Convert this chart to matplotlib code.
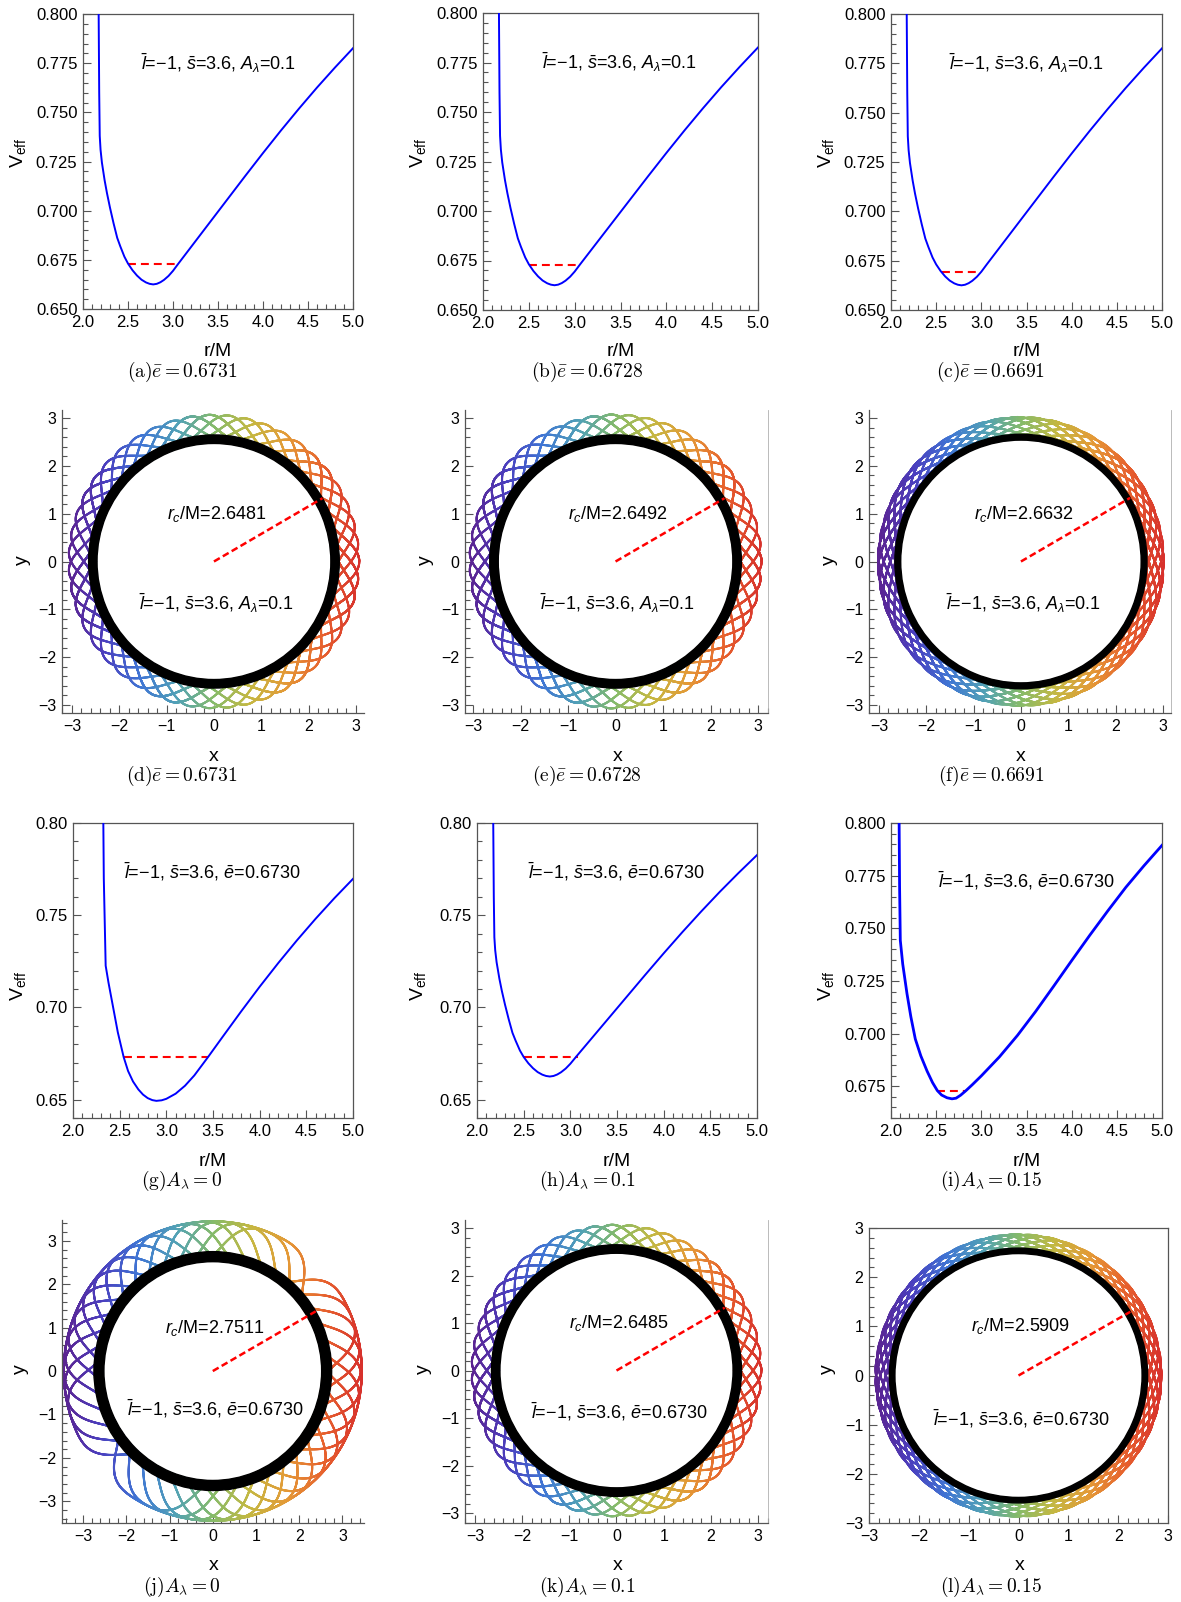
import numpy as np
import matplotlib
matplotlib.use('Agg')
import matplotlib.pyplot as plt
from matplotlib.collections import LineCollection
from matplotlib.colors import LinearSegmentedColormap
from matplotlib.patches import Wedge
from matplotlib.ticker import MultipleLocator, FormatStrFormatter

plt.rcParams.update({
    'font.family': 'Liberation Sans',
    'mathtext.fontset': 'custom',
    'mathtext.rm': 'Liberation Sans',
    'mathtext.it': 'Liberation Sans:italic',
    'mathtext.bf': 'Liberation Sans:bold',
    'mathtext.sf': 'Liberation Sans',
    'axes.unicode_minus': True,
})

W, H = 1181, 1602
FRAME = '#555555'

# ---- effective potentials ----
# A_lambda = 0.1  (panels a, b, c, h)
r_A01 = [2.174, 2.180, 2.186, 2.195, 2.21, 2.24, 2.266, 2.30, 2.34, 2.38, 2.414, 2.46,
         2.50, 2.55, 2.60, 2.65, 2.70, 2.74, 2.78, 2.82, 2.86, 2.90, 2.95, 3.00, 3.06,
         3.12, 3.20, 3.40, 3.60, 3.80, 4.00, 4.20, 4.40, 4.60, 4.80, 5.00]
V_A01 = [0.800, 0.760, 0.738, 0.7310, 0.7245, 0.7155, 0.7090, 0.7015, 0.6935, 0.6862,
         0.6819, 0.6766, 0.6731, 0.6697, 0.6670, 0.6649, 0.6635, 0.6628, 0.6625, 0.6628,
         0.6636, 0.6648, 0.6668, 0.6694, 0.6731, 0.6767, 0.6815, 0.6935, 0.7055, 0.7175,
         0.7293, 0.7408, 0.7519, 0.7626, 0.7728, 0.7826]
# A_lambda = 0  (panel g)
r_A00 = [2.325, 2.33, 2.35, 2.38, 2.43, 2.48, 2.543, 2.59, 2.643, 2.70, 2.75, 2.80, 2.85,
         2.893, 2.95, 3.00, 3.10, 3.20, 3.30, 3.446, 3.60, 3.80, 4.00, 4.20, 4.40, 4.60,
         4.80, 5.00]
V_A00 = [0.800, 0.770, 0.7226, 0.7135, 0.700, 0.6865, 0.6730, 0.6655, 0.6598, 0.6555,
         0.6527, 0.6508, 0.6497, 0.6493, 0.6496, 0.6504, 0.6532, 0.6575, 0.6631, 0.6730,
         0.6838, 0.6977, 0.7112, 0.7241, 0.7364, 0.7481, 0.7592, 0.7697]
# A_lambda = 0.15  (panel i)
r_A015 = [2.09, 2.095, 2.103, 2.13, 2.177, 2.22, 2.269, 2.33, 2.40, 2.46, 2.513, 2.56,
          2.62, 2.675, 2.72, 2.77, 2.83, 2.90, 3.00, 3.20, 3.40, 3.60, 3.80, 4.00, 4.20,
          4.40, 4.60, 4.80, 5.00]
V_A015 = [0.800, 0.770, 0.7443, 0.733, 0.719, 0.708, 0.6975, 0.6895, 0.6822, 0.6768,
          0.6730, 0.6709, 0.6696, 0.6691, 0.6694, 0.6708, 0.6730, 0.6758, 0.6800, 0.6890,
          0.6992, 0.7105, 0.7225, 0.7347, 0.7467, 0.7583, 0.7695, 0.7797, 0.7894]

# energy levels and turning points
e_row1 = [0.6731, 0.6728, 0.6691]
turn_row1 = [(2.50, 3.06), (2.50, 3.06), (2.56, 2.98)]
e_row3 = [0.6730, 0.6730, 0.6730]
turn_row3 = [(2.543, 3.446), (2.50, 3.08), (2.513, 2.83)]
A_row3 = ['0', '0.1', '0.15']

# orbits: circular radius, radial range
rc_row2 = [2.6481, 2.6492, 2.6632]
rrange_row2 = [(2.50, 3.07), (2.50, 3.075), (2.57, 3.02)]
rc_row4 = [2.7511, 2.6485, 2.5909]
rrange_row4 = [(2.55, 3.45), (2.50, 3.07), (2.51, 2.87)]

rainbow = LinearSegmentedColormap.from_list('rainbow_m', [
    '#5b2391', '#4a3fbf', '#3f76d4', '#52a2b6', '#86bb6a',
    '#c5b842', '#e49a36', '#e7612d', '#d7312c'])

fig = plt.figure(figsize=(W / 100, H / 100), dpi=100)


def box(x0, y0, x1, y1):
    return [x0 / W, 1 - y1 / H, (x1 - x0) / W, (y1 - y0) / H]


def ftext(x, y, s, **kw):
    fig.text(x / W, 1 - y / H, s, ha='center', va='center', **kw)


def style(ax, frame=True, right=False):
    ax.tick_params(which='both', direction='in', top=False, right=False,
                   color=FRAME, width=0.8, labelsize=12, pad=4)
    ax.tick_params(which='major', length=6)
    ax.tick_params(which='minor', length=3.5)
    for side, sp in ax.spines.items():
        sp.set_color(FRAME)
        sp.set_linewidth(0.9)
    if not frame:
        ax.spines['top'].set_visible(False)
        ax.spines['right'].set_visible(right)
        if right:
            ax.spines['right'].set_color('#b0b0b0')
            ax.spines['right'].set_linewidth(0.6)


def veff_panel(rect, r, V, e, turn, ylim, ymaj, ymin, yfmt, label, txt_xy, lw=1.4):
    ax = fig.add_axes(box(*rect))
    ax.plot(r, V, color='blue', lw=lw, solid_joinstyle='round', zorder=3)
    ax.plot(turn, [e, e], color='red', lw=1.5, ls=(0, (3.8, 2.4)), zorder=2)
    ax.set_xlim(2.0, 5.0)
    ax.set_ylim(*ylim)
    ax.xaxis.set_major_locator(MultipleLocator(0.5))
    ax.xaxis.set_minor_locator(MultipleLocator(0.1))
    ax.xaxis.set_major_formatter(FormatStrFormatter('%.1f'))
    ax.yaxis.set_major_locator(MultipleLocator(ymaj))
    ax.yaxis.set_minor_locator(MultipleLocator(ymin))
    ax.yaxis.set_major_formatter(FormatStrFormatter(yfmt))
    style(ax)
    ax.text(txt_xy[0], txt_xy[1], label, fontsize=13, ha='left', va='center')
    return ax


def orbit_panel(rect, xlim, ylim, rc, rr, shape, label, frame=False, right=False):
    # shape: radial/azimuthal frequency ratio, revolutions, first apoapsis angle,
    # half-width of an excursion (rad) and its flatness exponent
    omega, nrev, phase, width, power = shape
    ax = fig.add_axes(box(*rect))
    rmin, rmax = rr
    period = 2 * np.pi / omega
    phi = np.linspace(0, 2 * np.pi * nrev, 80000)
    d = np.mod(phi - np.radians(phase) + period / 2, period) - period / 2
    rad = rmin + (rmax - rmin) * np.exp(-np.abs(d / width) ** power)
    x, y = rad * np.cos(phi), rad * np.sin(phi)
    pts = np.column_stack([x, y]).reshape(-1, 1, 2)
    segs = np.concatenate([pts[:-1], pts[1:]], axis=1)
    lc = LineCollection(segs, cmap=rainbow, norm=plt.Normalize(-rmax, rmax),
                        linewidths=1.5, capstyle='round')
    lc.set_array(0.5 * (x[:-1] + x[1:]))
    ax.add_collection(lc)
    ax.add_patch(Wedge((0, 0), rc, 0, 360, width=rc - (rmin - 0.03), color='black', zorder=3))
    ang = np.radians(30)
    ax.plot([0, rc * np.cos(ang)], [0, rc * np.sin(ang)], color='red', lw=1.8,
            ls=(0, (2.7, 1.4)), zorder=4)
    ax.text(0.05, 1.0, r'$r_c$/M=%.4f' % rc, fontsize=13, ha='center', va='center', zorder=5)
    ax.text(0.05, -0.87, label, fontsize=13, ha='center', va='center', zorder=5)
    ax.set_xlim(*xlim)
    ax.set_ylim(*ylim)
    ax.xaxis.set_major_locator(MultipleLocator(1))
    ax.xaxis.set_minor_locator(MultipleLocator(0.2))
    ax.yaxis.set_major_locator(MultipleLocator(1))
    ax.yaxis.set_minor_locator(MultipleLocator(0.2))
    style(ax, frame=frame, right=right)
    ax.tick_params(labelsize=11.5)
    return ax


lbl_A = r'$\bar{l}$=−1, $\bar{s}$=3.6, $A_\lambda$=0.1'
lbl_e = r'$\bar{l}$=−1, $\bar{s}$=3.6, $\bar{e}$=0.6730'
letters1 = ['a', 'b', 'c']
letters2 = ['d', 'e', 'f']
letters3 = ['g', 'h', 'i']
letters4 = ['j', 'k', 'l']
cap_x = [182, 587, 991]

# ---- row 1: potentials, varying energy ----
row1_rects = [(83, 14, 353, 309), (483, 13, 758, 310), (891, 14, 1162, 310)]
for i, rect in enumerate(row1_rects):
    veff_panel(rect, r_A01, V_A01, e_row1[i], turn_row1[i], (0.65, 0.80), 0.025, 0.005,
               '%.3f', lbl_A, (2.64, 0.775))
    cx = 0.5 * (rect[0] + rect[2])
    ftext(cx, 352, 'r/M', fontsize=14)
    ftext(rect[0] - 65, 153, r'V$_{\mathrm{eff}}$', fontsize=14, rotation=90)
    ftext(cap_x[i], 372, r'$\mathrm{(%s)}\bar{e}=%.4f$' % (letters1[i], e_row1[i]),
          fontsize=14, math_fontfamily='cm')

# ---- row 2: orbits, varying energy ----
lattice = (2.35, 26, 0, 0.22, 2)
dense = (2.35, 32, 0, 0.36, 2)
row2_rects = [(62, 410, 364, 713), (465, 410, 768, 713), (869, 410, 1171, 713)]
row2_xlim = [(-3.21, 3.17), (-3.17, 3.21), (-3.21, 3.17)]
row2_shape = [lattice, lattice, dense]
for i, rect in enumerate(row2_rects):
    orbit_panel(rect, row2_xlim[i], (-3.17, 3.17), rc_row2[i], rrange_row2[i],
                row2_shape[i], lbl_A, right=(i > 0))
    ftext(0.5 * (rect[0] + rect[2]) + 1, 757, 'x', fontsize=14)
    ftext(rect[0] - 40, 560, 'y', fontsize=14, rotation=90)
    ftext(cap_x[i], 776, r'$\mathrm{(%s)}\bar{e}=%.4f$' % (letters2[i], e_row1[i]),
          fontsize=14, math_fontfamily='cm')

# ---- row 3: potentials, varying A_lambda ----
row3_rects = [(73, 823, 353, 1118), (477, 823, 757, 1118), (891, 823, 1162, 1118)]
row3_curves = [(r_A00, V_A00), (r_A01, V_A01), (r_A015, V_A015)]
row3_ylim = [(0.64, 0.80), (0.64, 0.80), (0.66, 0.80)]
row3_tick = [(0.05, 0.01, '%.2f'), (0.05, 0.01, '%.2f'), (0.025, 0.005, '%.3f')]
row3_txt = [(2.55, 0.7734), (2.546, 0.7734), (2.517, 0.7728)]
row3_lw = [1.4, 1.4, 2.0]
for i, rect in enumerate(row3_rects):
    rr, vv = row3_curves[i]
    maj, mnr, fmt = row3_tick[i]
    veff_panel(rect, rr, vv, e_row3[i], turn_row3[i], row3_ylim[i], maj, mnr, fmt,
               lbl_e, row3_txt[i], lw=row3_lw[i])
    ftext(0.5 * (rect[0] + rect[2]), 1162, 'r/M', fontsize=14)
    ftext(row1_rects[i][0] - 65, 986, r'V$_{\mathrm{eff}}$', fontsize=14, rotation=90)
    ftext(cap_x[i], 1181, r'$\mathrm{(%s)}A_\lambda=%s$' % (letters3[i], A_row3[i]),
          fontsize=14, math_fontfamily='cm')

# ---- row 4: orbits, varying A_lambda ----
row4_rects = [(62, 1220, 364, 1523), (465, 1220, 768, 1523), (869, 1228, 1168, 1523)]
row4_lims = [((-3.49, 3.5), (-3.5, 3.48)), ((-3.21, 3.21), (-3.21, 3.17)), ((-3, 3), (-3, 3))]
row4_shape = [(2.0484, 17, 25, 0.37, 4), lattice, dense]
for i, rect in enumerate(row4_rects):
    xl, yl = row4_lims[i]
    orbit_panel(rect, xl, yl, rc_row4[i], rrange_row4[i], row4_shape[i], lbl_e,
                frame=(i == 2), right=(i == 1))
    ftext(0.5 * (rect[0] + rect[2]) + 1, 1565, 'x', fontsize=14)
    ftext(rect[0] - 42, 1369, 'y', fontsize=14, rotation=90)
    ftext(cap_x[i], 1587, r'$\mathrm{(%s)}A_\lambda=%s$' % (letters4[i], A_row3[i]),
          fontsize=14, math_fontfamily='cm')

fig.savefig('out.png', dpi=100)
